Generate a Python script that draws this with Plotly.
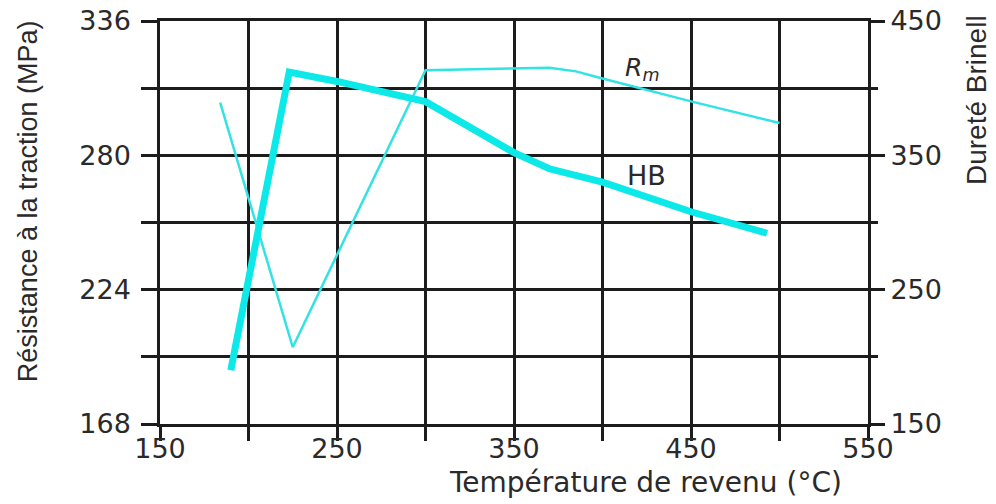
import plotly.graph_objects as go

# Data
temp_rm = [184, 225, 300, 370, 385, 400, 450, 500]
rm_mpa = [302, 200, 315.5, 316.5, 315, 312, 302.5, 293.5]

temp_hb = [190, 223, 250, 300, 350, 370, 400, 450, 493]
hb_values = [190, 412, 405, 390, 352, 340, 330, 308, 292]

x_ticks = [150, 250, 350, 450, 550]
left_ticks = [168, 224, 280, 336]
right_ticks = [150, 250, 350, 450]

GRID = "#1c1c1c"
TXT = "#2a2a2a"
TICKFONT = dict(family="DejaVu Sans", size=27, color=TXT)

fig = go.Figure()
fig.add_trace(go.Scatter(x=temp_rm, y=rm_mpa, mode="lines",
                         line=dict(color="#33e2e2", width=2.5),
                         yaxis="y", showlegend=False, hoverinfo="skip"))
fig.add_trace(go.Scatter(x=temp_hb, y=hb_values, mode="lines",
                         line=dict(color="#0de8e8", width=7),
                         yaxis="y2", showlegend=False, hoverinfo="skip"))

fig.update_layout(
    width=996, height=504,
    margin=dict(l=160, r=128, t=21, b=80, autoexpand=False),
    paper_bgcolor="white", plot_bgcolor="white",
    xaxis=dict(range=[150, 550], tickvals=x_ticks, ticks="outside", ticklen=14,
               tickwidth=2.5, tickcolor=GRID, showgrid=True, gridcolor=GRID,
               gridwidth=2.5, showline=True, linecolor=GRID, linewidth=2.5,
               mirror=True, tickfont=TICKFONT, zeroline=False, automargin=False,
               ticklabelstandoff=-15,
               minor=dict(tick0=150, dtick=50, ticks="outside", ticklen=14,
                          tickwidth=2.5, tickcolor=GRID, showgrid=True,
                          gridcolor=GRID, gridwidth=2.5)),
    yaxis=dict(range=[168, 336], tickvals=left_ticks, ticks="outside", ticklen=16,
               tickwidth=2.5, tickcolor=GRID, showgrid=True, gridcolor=GRID,
               gridwidth=2.5, showline=True, linecolor=GRID, linewidth=2.5,
               mirror=True, tickfont=TICKFONT, zeroline=False, ticklabelstandoff=5,
               automargin=False,
               minor=dict(tick0=168, dtick=28, ticks="outside", ticklen=16,
                          tickwidth=2.5, tickcolor=GRID, showgrid=True,
                          gridcolor=GRID, gridwidth=2.5)),
    yaxis2=dict(range=[150, 450], tickvals=right_ticks, overlaying="y", side="right",
                ticks="outside", ticklen=16, tickwidth=2.5, tickcolor=GRID,
                showgrid=False, showline=False, zeroline=False, tickfont=TICKFONT,
                automargin=False,
                minor=dict(tick0=150, dtick=50, ticks="outside", ticklen=9,
                           tickwidth=2.5, tickcolor=GRID, showgrid=False)),
)

fig.add_annotation(text="Température de revenu (°C)", xref="paper", yref="paper",
                   x=0.686, y=-0.146, xanchor="center", yanchor="middle",
                   showarrow=False, font=dict(family="DejaVu Sans", size=28, color=TXT))
fig.add_annotation(text="Résistance à la traction (MPa)", xref="paper", yref="paper",
                   x=-0.1864, y=0.553, xanchor="center", yanchor="middle", textangle=-90,
                   showarrow=False, font=dict(family="Liberation Sans", size=27, color=TXT))
fig.add_annotation(text="Dureté Brinell", xref="paper", yref="paper",
                   x=1.154, y=0.804, xanchor="center", yanchor="middle", textangle=-90,
                   showarrow=False, font=dict(family="Liberation Sans", size=28, color=TXT))
fig.add_annotation(text="<i>R<sub>m</sub></i>", x=411.6, y=316, xref="x", yref="y",
                   xanchor="left", yanchor="middle", showarrow=False,
                   font=dict(family="DejaVu Sans", size=25, color=TXT))
fig.add_annotation(text="HB", x=425.1, y=271.6, xref="x", yref="y",
                   xanchor="center", yanchor="middle", showarrow=False,
                   font=dict(family="DejaVu Sans", size=27, color=TXT))

fig.write_html("out.html")
